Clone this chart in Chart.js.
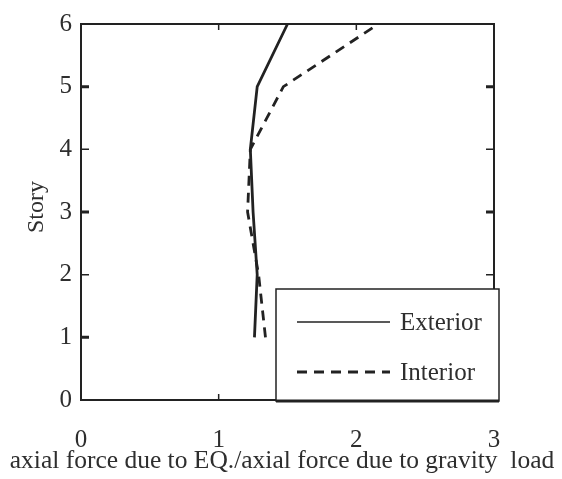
<!DOCTYPE html>
<html>
<head>
<meta charset="utf-8">
<script src="https://cdn.jsdelivr.net/npm/chart.js@4.4.1/dist/chart.umd.min.js"></script>
<style>
  html, body { margin: 0; padding: 0; background: #fff; }
  #wrap { width: 562px; height: 479px; }
</style>
</head>
<body>
<div id="wrap"><canvas id="myChart"></canvas></div>
<script>
// data
const stories = [1, 2, 3, 4, 5, 6];
const exteriorRatio = [1.26, 1.28, 1.25, 1.23, 1.28, 1.50];
const interiorRatio = [1.34, 1.29, 1.21, 1.23, 1.47, 2.16];
const xTicks = [0, 1, 2, 3];
const yTicks = [0, 1, 2, 3, 4, 5, 6];
const xTitle = 'axial force due to EQ./axial force due to gravity  load';
const yTitle = 'Story';

const ink = '#222';
const textInk = '#2e2e2e';
const serif = "'Liberation Serif', 'DejaVu Serif', serif";

function toPoints(xs, ys) {
  return xs.map((x, i) => ({ x: x, y: ys[i] }));
}

// frame, inward ticks, axis titles and the boxed legend
const framePlugin = {
  id: 'frame',
  afterDraw(chart) {
    const ctx = chart.ctx;
    const a = chart.chartArea;
    const xs = chart.scales.x, ys = chart.scales.y;
    ctx.save();
    ctx.strokeStyle = ink;
    ctx.lineWidth = 2;
    ctx.strokeRect(a.left, a.top, a.right - a.left, a.bottom - a.top);

    // y ticks, both sides
    yTicks.forEach(v => {
      if (v === 0 || v === 6) return;
      const py = ys.getPixelForValue(v);
      ctx.lineWidth = (v % 2 === 1) ? 3 : 1.5;
      ctx.beginPath();
      ctx.moveTo(a.left, py); ctx.lineTo(a.left + 8, py);
      ctx.moveTo(a.right, py); ctx.lineTo(a.right - 8, py);
      ctx.stroke();
    });
    // x ticks, top and bottom
    ctx.lineWidth = 1.5;
    xTicks.forEach(v => {
      if (v === 0 || v === 3) return;
      const px = xs.getPixelForValue(v);
      ctx.beginPath();
      ctx.moveTo(px, a.top); ctx.lineTo(px, a.top + 6);
      ctx.moveTo(px, a.bottom); ctx.lineTo(px, a.bottom - 6);
      ctx.stroke();
    });

    // axis titles
    ctx.fillStyle = textInk;
    ctx.font = "25.5px " + serif;
    ctx.textAlign = 'center';
    ctx.textBaseline = 'alphabetic';
    ctx.fillText(xTitle, 282, 468);

    ctx.save();
    ctx.translate(37, 207);
    ctx.rotate(-Math.PI / 2);
    ctx.font = "24px " + serif;
    ctx.textBaseline = 'middle';
    ctx.fillText(yTitle, 0, 0);
    ctx.restore();

    // legend box
    const bx = 276, by = 289, bw = 223, bh = 112;
    ctx.fillStyle = '#fff';
    ctx.fillRect(bx, by, bw, bh);
    ctx.lineWidth = 1.5;
    ctx.strokeRect(bx, by, bw, bh);
    ctx.lineWidth = 3;
    ctx.beginPath();
    ctx.moveTo(bx, by + bh); ctx.lineTo(bx + bw, by + bh);
    ctx.stroke();

    const ds = chart.data.datasets;
    const rows = [322, 372];
    ds.forEach((d, i) => {
      ctx.strokeStyle = ink;
      ctx.lineWidth = i === 0 ? 1.5 : 3;
      ctx.setLineDash(d.borderDash || []);
      ctx.beginPath();
      ctx.moveTo(297, rows[i]); ctx.lineTo(390, rows[i]);
      ctx.stroke();
      ctx.setLineDash([]);
      ctx.fillStyle = textInk;
      ctx.font = "25px " + serif;
      ctx.textBaseline = 'middle';
      ctx.textAlign = 'left';
      ctx.fillText(d.label, 400, rows[i] + 1);
    });
    ctx.restore();
  }
};

new Chart(document.getElementById('myChart'), {
  type: 'scatter',
  data: {
    datasets: [
      {
        label: 'Exterior',
        data: toPoints(exteriorRatio, stories),
        showLine: true,
        borderColor: ink,
        borderWidth: 2.8,
        pointRadius: 0,
        fill: false
      },
      {
        label: 'Interior',
        data: toPoints(interiorRatio, stories),
        showLine: true,
        borderColor: ink,
        borderWidth: 2.8,
        borderDash: [10, 7],
        pointRadius: 0,
        fill: false
      }
    ]
  },
  options: {
    responsive: true,
    maintainAspectRatio: false,
    animation: false,
    clip: false,
    layout: { padding: { top: 23, right: 68, left: 0, bottom: 0 } },
    plugins: {
      legend: { display: false },
      tooltip: { enabled: false }
    },
    scales: {
      x: {
        type: 'linear',
        min: 0, max: 3,
        afterBuildTicks: s => { s.ticks = xTicks.map(v => ({ value: v })); },
        afterFit: s => { s.height = 79; },
        grid: { display: false, drawTicks: false },
        border: { display: false },
        ticks: {
          color: textInk,
          padding: 25,
          maxRotation: 0,
          font: { family: serif, size: 25 }
        }
      },
      y: {
        type: 'linear',
        min: 0, max: 6,
        afterBuildTicks: s => { s.ticks = yTicks.map(v => ({ value: v })); },
        afterFit: s => { s.width = 81; },
        grid: { display: false, drawTicks: false },
        border: { display: false },
        ticks: {
          color: textInk,
          padding: 9,
          font: { family: serif, size: 25 }
        }
      }
    }
  },
  plugins: [framePlugin]
});
</script>
</body>
</html>
